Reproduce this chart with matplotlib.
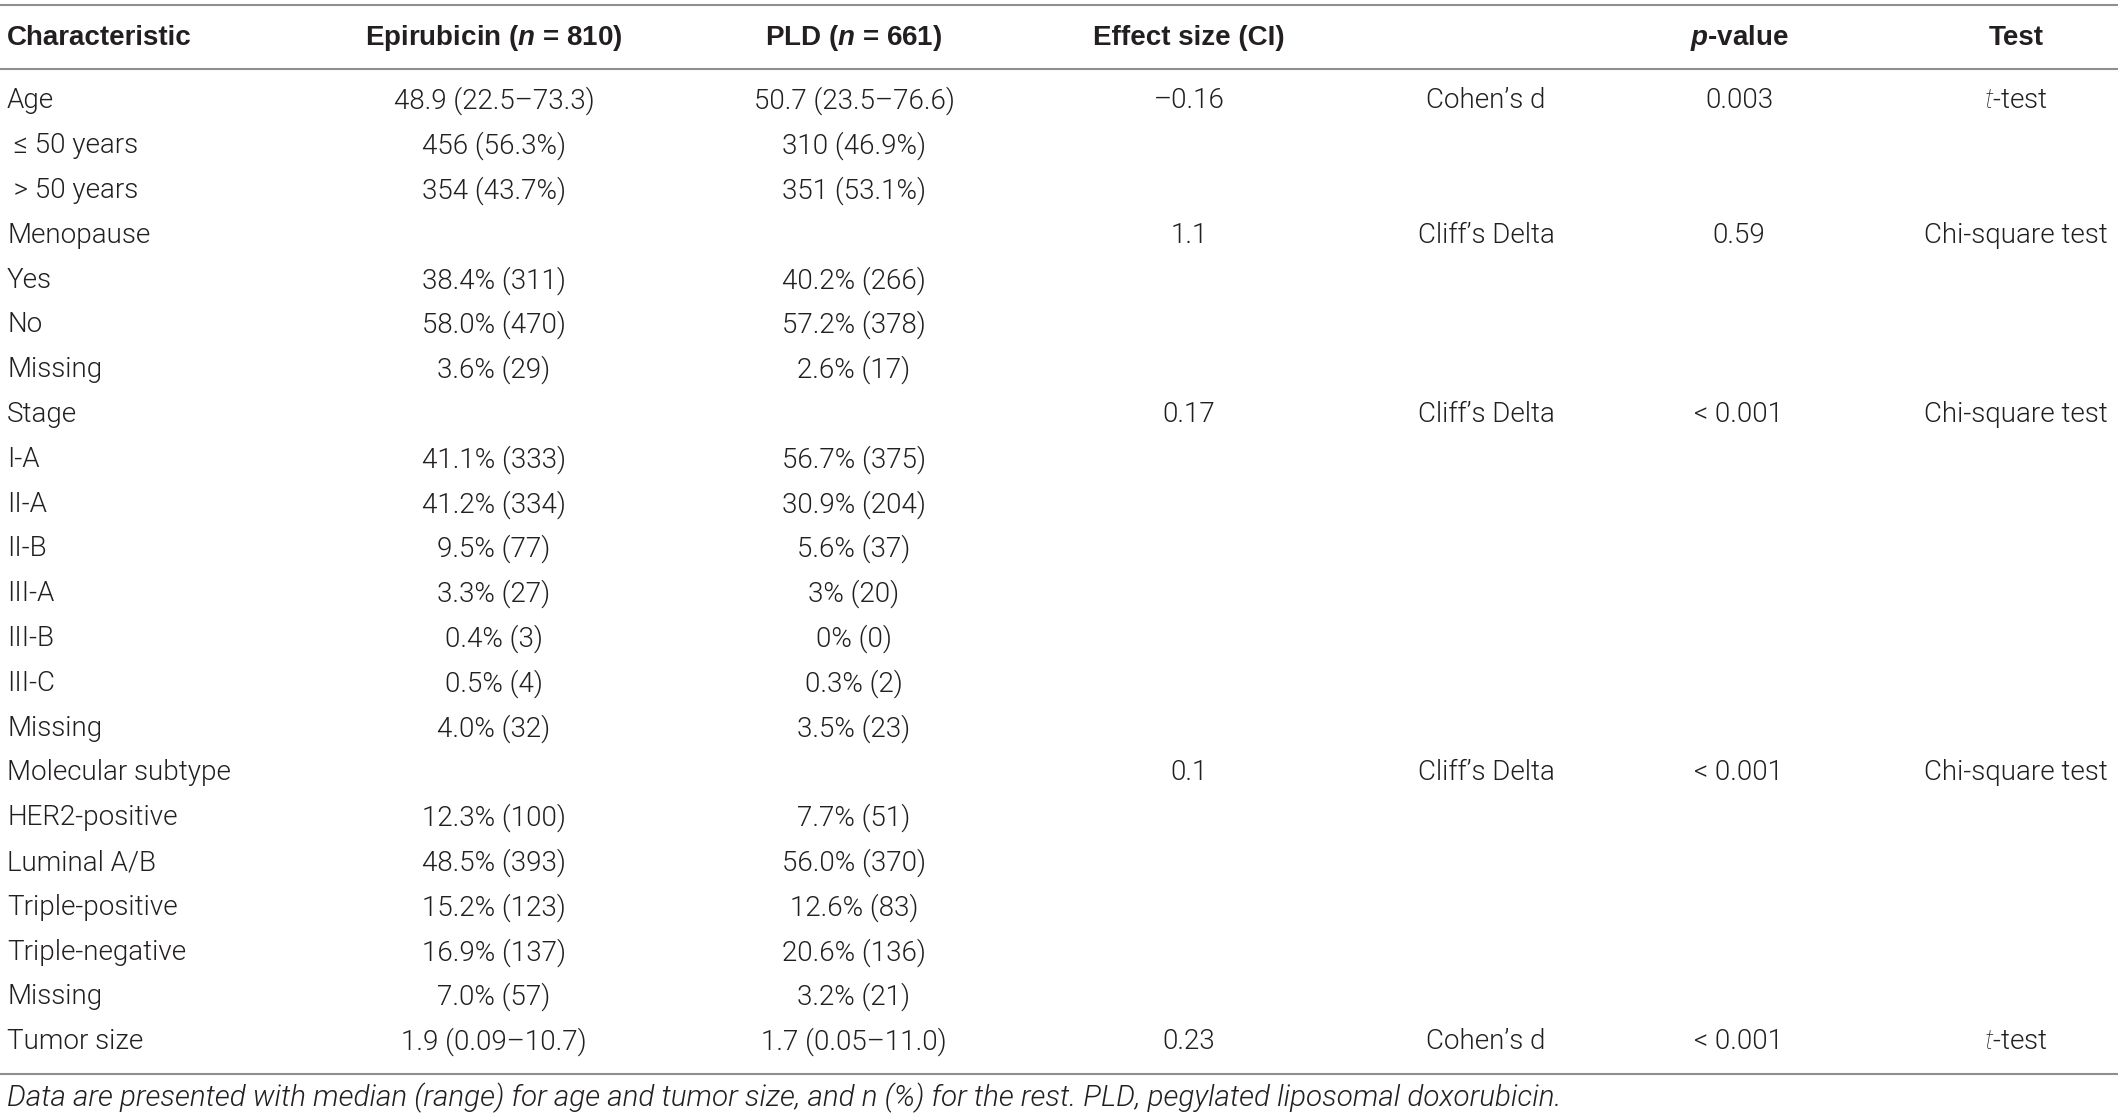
# Baseline characteristics table, redrawn as text on an empty axes
import matplotlib
matplotlib.use('Agg')
import matplotlib.pyplot as plt

plt.rcParams['font.family'] = ['Roboto', 'Liberation Sans', 'DejaVu Sans']
plt.rcParams['mathtext.fontset'] = 'custom'
plt.rcParams['mathtext.it'] = 'Roboto:italic:light'
plt.rcParams['mathtext.bfit'] = 'Liberation Sans:bold:italic'
plt.rcParams['mathtext.rm'] = 'Roboto:light'

headers = ['Characteristic', r'Epirubicin ($\mathbfit{n}$ = 810)', r'PLD ($\mathbfit{n}$ = 661)',
           'Effect size (CI)', '', r'$\mathbfit{p}$-value', 'Test']

characteristic = ['Age', ' \u2264 50 years', ' > 50 years', 'Menopause', 'Yes', 'No', 'Missing',
                  'Stage', 'I-A', 'II-A', 'II-B', 'III-A', 'III-B', 'III-C', 'Missing',
                  'Molecular subtype', 'HER2-positive', 'Luminal A/B', 'Triple-positive',
                  'Triple-negative', 'Missing', 'Tumor size']
epirubicin = ['48.9 (22.5\u201373.3)', '456 (56.3%)', '354 (43.7%)', '', '38.4% (311)', '58.0% (470)',
              '3.6% (29)', '', '41.1% (333)', '41.2% (334)', '9.5% (77)', '3.3% (27)', '0.4% (3)',
              '0.5% (4)', '4.0% (32)', '', '12.3% (100)', '48.5% (393)', '15.2% (123)',
              '16.9% (137)', '7.0% (57)', '1.9 (0.09\u201310.7)']
pld = ['50.7 (23.5\u201376.6)', '310 (46.9%)', '351 (53.1%)', '', '40.2% (266)', '57.2% (378)',
       '2.6% (17)', '', '56.7% (375)', '30.9% (204)', '5.6% (37)', '3% (20)', '0% (0)',
       '0.3% (2)', '3.5% (23)', '', '7.7% (51)', '56.0% (370)', '12.6% (83)',
       '20.6% (136)', '3.2% (21)', '1.7 (0.05\u201311.0)']
effect = {0: '\u20130.16', 3: '1.1', 7: '0.17', 15: '0.1', 21: '0.23'}
effect_kind = {0: "Cohen\u2019s d", 3: "Cliff\u2019s Delta", 7: "Cliff\u2019s Delta",
               15: "Cliff\u2019s Delta", 21: "Cohen\u2019s d"}
pvalue = {0: '0.003', 3: '0.59', 7: '< 0.001', 15: '< 0.001', 21: '< 0.001'}
test = {0: r'$\mathit{t}$-test', 3: 'Chi-square test', 7: 'Chi-square test',
        15: 'Chi-square test', 21: r'$\mathit{t}$-test'}
footnote = ('Data are presented with median (range) for age and tumor size, and n (%) for the rest. '
            'PLD, pegylated liposomal doxorubicin.')

W, H = 2118, 1120
fig = plt.figure(figsize=(W / 100, H / 100), dpi=100)
ax = fig.add_axes([0, 0, 1, 1])
ax.set_xlim(0, W)
ax.set_ylim(H, 0)
ax.axis('off')

txt = '#231f20'
fs = 20
col_x = [7, 494, 854, 1189, 1486, 1739, 2016]
head_y = 38
row0, dy = 101, 44.8

for ln_y in [5, 69, 1074]:
    ax.plot([0, W], [ln_y, ln_y], color='#8f8f8f', lw=1.5, solid_capstyle='butt')

for j, h in enumerate(headers):
    ha = 'left' if j == 0 else 'center'
    ax.text(col_x[j], head_y, h, ha=ha, va='center', fontsize=fs, fontweight='bold',
            family=['Liberation Sans', 'DejaVu Sans'], color=txt)

def cell(x, y, s, ha='center'):
    ax.text(x, y, s, ha=ha, va='center', fontsize=fs, fontweight=300, color=txt)

for i in range(len(characteristic)):
    y = row0 + i * dy
    cell(col_x[0], y, characteristic[i], ha='left')
    cell(col_x[1], y, epirubicin[i])
    cell(col_x[2], y, pld[i])
    if i in effect:
        cell(col_x[3], y, effect[i])
        cell(col_x[4], y, effect_kind[i])
        cell(col_x[5], y, pvalue[i])
        cell(col_x[6], y, test[i])

ax.text(col_x[0], 1098, footnote, ha='left', va='center', fontsize=21.3, fontweight=300,
        style='italic', color=txt)

fig.savefig('out.png', dpi=100)
